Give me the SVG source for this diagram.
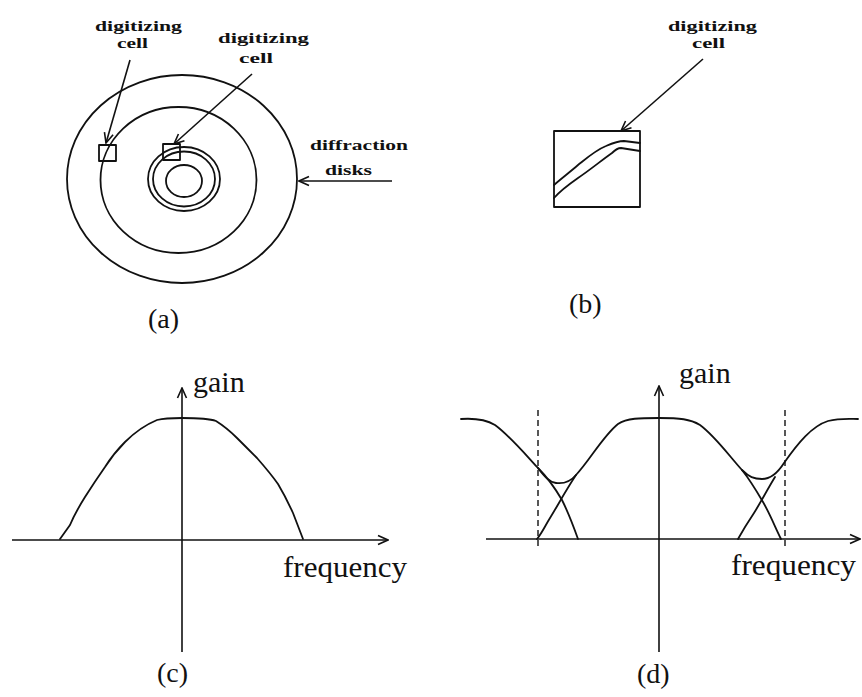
<svg xmlns="http://www.w3.org/2000/svg" width="862" height="697" viewBox="0 0 862 697">
<defs>
<marker id="ah" viewBox="0 0 12 12" refX="11" refY="6" markerWidth="12" markerHeight="12" markerUnits="userSpaceOnUse" orient="auto">
<path d="M1,1.5 L11,6 L1,10.5" fill="none" stroke="#111" stroke-width="1.6"/>
</marker>
</defs>
<style>
.ln{fill:none;stroke:#111;stroke-width:1.8;stroke-linejoin:round;stroke-linecap:round}
.ax{fill:none;stroke:#111;stroke-width:1.6}
.dash{fill:none;stroke:#111;stroke-width:1.4;stroke-dasharray:6,4}
.lab{font-family:"Liberation Serif",serif;font-size:15px;font-weight:bold;fill:#111}
.big{font-family:"Liberation Serif",serif;font-size:30px;fill:#111}
.cap{font-family:"Liberation Serif",serif;font-size:28px;fill:#111}
</style>
<rect width="862" height="697" fill="#fff"/>

<!-- Panel (a) -->
<g id="panel-a">
<g id="disks">
<ellipse class="ln" cx="182" cy="179" rx="115" ry="104"/>
<ellipse class="ln" cx="178.5" cy="180" rx="78" ry="73"/>
<ellipse class="ln" cx="184" cy="179" rx="36" ry="32"/>
<ellipse class="ln" cx="184" cy="179" rx="31" ry="27.5"/>
<ellipse class="ln" cx="184" cy="181" rx="18" ry="16"/>
</g>
<rect id="cell-a1" class="ln" x="99" y="145" width="17" height="16" stroke-width="1.4"/>
<rect id="cell-a2" class="ln" x="163" y="144" width="17" height="16" stroke-width="1.4"/>
<g id="label-a1">
<text class="lab" x="95" y="31" textLength="87" lengthAdjust="spacingAndGlyphs">digitizing</text>
<text class="lab" x="117" y="48" textLength="31" lengthAdjust="spacingAndGlyphs">cell</text>
</g>
<g id="label-a2">
<text class="lab" x="218" y="43" textLength="91" lengthAdjust="spacingAndGlyphs">digitizing</text>
<text class="lab" x="239" y="63" textLength="34" lengthAdjust="spacingAndGlyphs">cell</text>
</g>
<g id="label-a3">
<text class="lab" x="310" y="150" textLength="98" lengthAdjust="spacingAndGlyphs">diffraction</text>
<text class="lab" x="325" y="175" textLength="47" lengthAdjust="spacingAndGlyphs">disks</text>
</g>
<text id="cap-a" class="cap" x="148" y="328">(a)</text>
</g>

<!-- Panel (b) -->
<g id="panel-b">
<rect id="cell-b" class="ln" x="554" y="131" width="86" height="76"/>
<path class="ln" d="M554,185 C562,178 570,172 578,165 C588,157 596,150 606,146 C613,143 618,141 624,141 L640,143"/>
<path class="ln" d="M554,198 C560,191 568,185 578,178 C590,170 602,160 612,153 C615,150 617,148 621,148 L640,151"/>
<g id="label-b">
<text class="lab" x="668" y="31" textLength="89" lengthAdjust="spacingAndGlyphs">digitizing</text>
<text class="lab" x="692" y="48" textLength="33" lengthAdjust="spacingAndGlyphs">cell</text>
</g>
<text id="cap-b" class="cap" x="569" y="313">(b)</text>
</g>

<!-- Panel (c) -->
<g id="panel-c">
<line class="ax" x1="12" y1="540" x2="388" y2="540" marker-end="url(#ah)"/>
<line class="ax" x1="182" y1="652" x2="182" y2="388" marker-end="url(#ah)"/>
<path class="ln" d="M60,539 L70,525 C75,513 80,505 85,497 C92,486 98,477 105,467 C112,456 118,449 125,442 C135,432 145,425 157,420 C165,418 175,418 182,418 C195,418 208,418 216,421 C224,426 230,431 237,438 C244,445 250,451 257,458 C264,466 271,474 278,484 C284,494 288,502 293,513 L303,539"/>
<text id="gain-c" class="big" x="193" y="392">gain</text>
<text id="freq-c" class="big" x="283" y="577" textLength="124" lengthAdjust="spacingAndGlyphs">frequency</text>
<text id="cap-c" class="cap" x="157" y="682">(c)</text>
</g>

<!-- Panel (d) -->
<g id="panel-d">
<line class="ax" x1="486" y1="539" x2="860" y2="539" marker-end="url(#ah)"/>
<line class="ax" x1="659" y1="652" x2="659" y2="386" marker-end="url(#ah)"/>
<line class="dash" x1="538" y1="410" x2="538" y2="548"/>
<line class="dash" x1="785" y1="410" x2="785" y2="548"/>
<path class="ln" d="M461,419 C475,418 485,419 495,425 C510,436 525,454 538,468 C544,476 549,482 556,483 C564,484 571,481 576,475 C590,460 603,436 618,424 C627,418 640,418 659,418 C680,418 690,419 700,425 C716,437 730,457 742,470 C749,477 754,479 762,479 C770,479 777,474 784,463 C798,443 812,426 828,421 C840,418 850,419 858,419"/>
<path class="ln" d="M538,468 C548,478 555,488 562,500 C568,512 573,525 578,539"/>
<path class="ln" d="M537,539 C542,533 545,526 550,518 C558,505 566,490 576,475"/>
<path class="ln" d="M742,470 C750,480 756,490 763,502 C770,514 775,527 781,539"/>
<path class="ln" d="M738,539 C743,530 748,522 754,513 C761,502 767,490 775,477"/>
<text id="gain-d" class="big" x="679" y="383">gain</text>
<text id="freq-d" class="big" x="731" y="575" textLength="125" lengthAdjust="spacingAndGlyphs">frequency</text>
<text id="cap-d" class="cap" x="637" y="683">(d)</text>
</g>

<!-- Connectors (arrows) -->
<g id="connectors">
<line class="ax" x1="130" y1="60" x2="106" y2="143" marker-end="url(#ah)"/>
<line class="ax" x1="252" y1="74" x2="174" y2="144" marker-end="url(#ah)"/>
<line class="ax" x1="392" y1="181" x2="299" y2="181" marker-end="url(#ah)"/>
<line class="ax" x1="703" y1="59" x2="621" y2="131" marker-end="url(#ah)"/>
</g>
</svg>
